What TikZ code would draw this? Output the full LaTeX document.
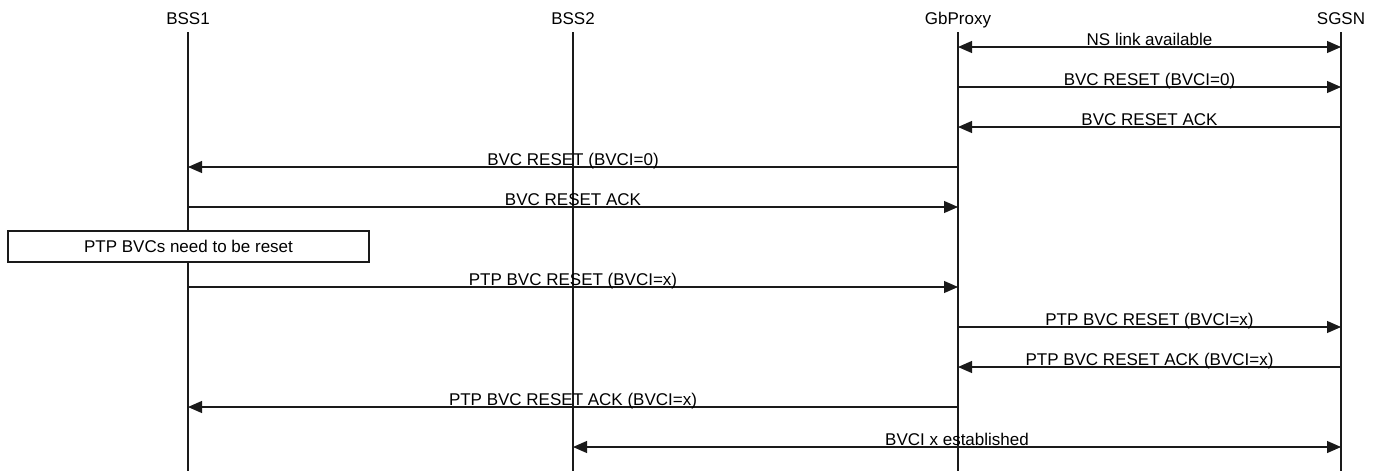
\documentclass[tikz,border=0pt]{standalone}
\usepackage{fontspec}
\setmainfont{Liberation Sans}
\usetikzlibrary{arrows.meta,positioning,calc}
\definecolor{mscInk}{HTML}{1A1A1A}

\begin{document}
\begin{tikzpicture}[x=1pt, y=-1pt, font=\fontsize{17}{20}\selectfont,
  entity/.style={text=black, inner sep=0pt, anchor=base},
  life/.style={draw=mscInk, line width=1.1pt},
  msg/.style={draw=mscInk, line width=1.1pt, -{Triangle[length=14pt,width=12pt]}},
  bimsg/.style={draw=mscInk, line width=1.1pt, {Triangle[length=14pt,width=12pt]}-{Triangle[length=14pt,width=12pt]}},
  lbl/.style={midway, anchor=base, inner sep=0pt, yshift=1.5pt, text=black},
  note/.style={draw=mscInk, line width=1.1pt, fill=white, minimum width=361pt, minimum height=31pt, inner sep=0pt},
]
\useasboundingbox (0,0) rectangle (1386,471);
% ---- entities ----
\node[entity] (bss1) at (188,24){BSS1};
\node[entity] (bss2) at (573,24){BSS2};
\node[entity] (gbp) at (958,24){GbProxy};
\node[entity] (sgsn) at (1341,24){SGSN};
\coordinate (top) at (0,32);
\coordinate (bot) at (0,471);
% ---- lifelines ----
\foreach \e in {bss1,bss2,gbp,sgsn}{\draw[life] (\e |- top) -- (\e |- bot);}
% ---- message rows ----
\foreach \r/\y in {1/47,2/87,3/127,4/167,5/207,6/287,7/327,8/367,9/407,10/447}{\coordinate (r\r) at (0,\y);}
\draw[bimsg] (gbp |- r1) -- (sgsn |- r1) node[lbl]{NS link available};
\draw[msg] (gbp |- r2) -- (sgsn |- r2) node[lbl]{BVC RESET (BVCI=0)};
\draw[msg] (sgsn |- r3) -- (gbp |- r3) node[lbl]{BVC RESET ACK};
\draw[msg] (gbp |- r4) -- (bss1 |- r4) node[lbl]{BVC RESET (BVCI=0)};
\draw[msg] (bss1 |- r5) -- (gbp |- r5) node[lbl]{BVC RESET ACK};
% box on BSS1
\node[note] (ptpnote) at (188.5,246.5){PTP BVCs need to be reset};
\draw[msg] (bss1 |- r6) -- (gbp |- r6) node[lbl]{PTP BVC RESET (BVCI=x)};
\draw[msg] (gbp |- r7) -- (sgsn |- r7) node[lbl]{PTP BVC RESET (BVCI=x)};
\draw[msg] (sgsn |- r8) -- (gbp |- r8) node[lbl]{PTP BVC RESET ACK (BVCI=x)};
\draw[msg] (gbp |- r9) -- (bss1 |- r9) node[lbl]{PTP BVC RESET ACK (BVCI=x)};
\draw[bimsg] (bss2 |- r10) -- (sgsn |- r10) node[lbl]{BVCI x established};
\end{tikzpicture}
\end{document}
